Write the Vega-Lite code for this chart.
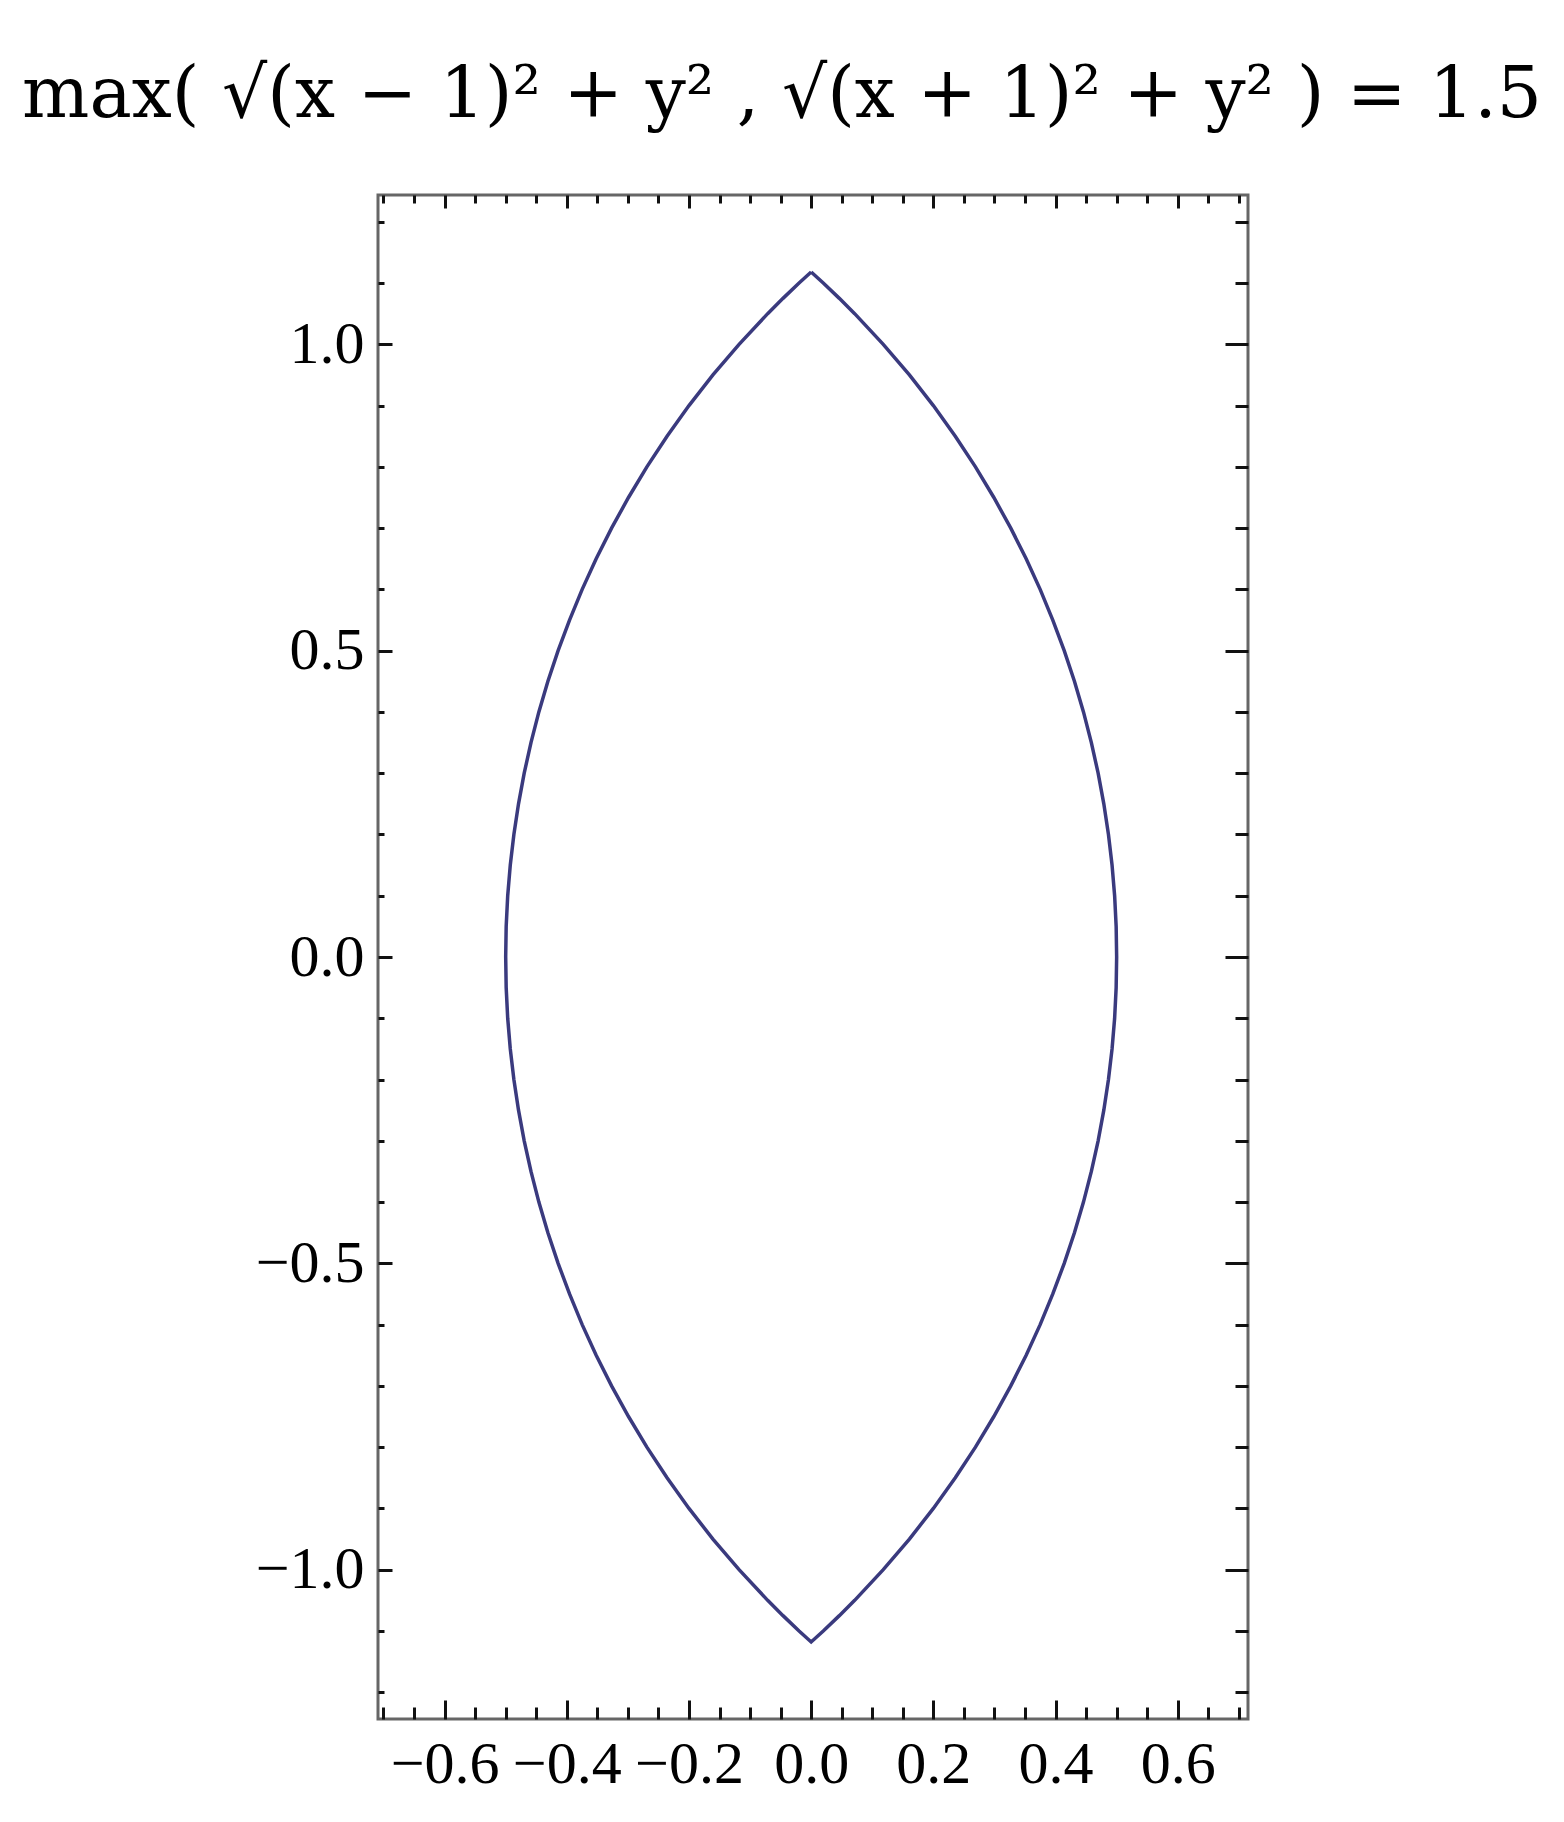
{
  "$schema": "https://vega.github.io/schema/vega-lite/v6.json",
  "width": 870,
  "height": 1524,
  "autosize": {"type": "none"},
  "padding": {"left": 378, "top": 195, "right": 316, "bottom": 103},
  "background": "white",
  "title": {
    "text": "max(  √(x − 1)² + y² , √(x + 1)² + y²  ) = 1.5",
    "font": "DejaVu Serif",
    "fontSize": 71,
    "fontWeight": "normal",
    "color": "#000000",
    "anchor": "middle",
    "frame": "group",
    "baseline": "alphabetic",
    "dx": -31,
    "dy": 70,
    "offset": 74
  },
  "config": {
    "view": {"stroke": "#666666", "strokeWidth": 3},
    "axis": {
      "domain": false,
      "grid": false,
      "tickColor": "#111111",
      "tickWidth": 3,
      "labelFont": "Liberation Serif",
      "labelFontSize": 60,
      "labelColor": "#000000",
      "labelFlush": false,
      "labelOverlap": false,
      "labelBound": false,
      "title": null
    }
  },
  "data": {
    "values": [
      {"i": 0, "x": 0, "y": 1.118},
      {"i": 1, "x": 0.0198, "y": 1.1},
      {"i": 2, "x": 0.0461, "y": 1.075},
      {"i": 3, "x": 0.0712, "y": 1.05},
      {"i": 4, "x": 0.118, "y": 1.0},
      {"i": 5, "x": 0.1608, "y": 0.95},
      {"i": 6, "x": 0.2, "y": 0.9},
      {"i": 7, "x": 0.2359, "y": 0.85},
      {"i": 8, "x": 0.2689, "y": 0.8},
      {"i": 9, "x": 0.299, "y": 0.75},
      {"i": 10, "x": 0.3267, "y": 0.7},
      {"i": 11, "x": 0.3519, "y": 0.65},
      {"i": 12, "x": 0.3748, "y": 0.6},
      {"i": 13, "x": 0.3955, "y": 0.55},
      {"i": 14, "x": 0.4142, "y": 0.5},
      {"i": 15, "x": 0.4309, "y": 0.45},
      {"i": 16, "x": 0.4457, "y": 0.4},
      {"i": 17, "x": 0.4586, "y": 0.35},
      {"i": 18, "x": 0.4697, "y": 0.3},
      {"i": 19, "x": 0.479, "y": 0.25},
      {"i": 20, "x": 0.4866, "y": 0.2},
      {"i": 21, "x": 0.4925, "y": 0.15},
      {"i": 22, "x": 0.4967, "y": 0.1},
      {"i": 23, "x": 0.4992, "y": 0.05},
      {"i": 24, "x": 0.5, "y": 0},
      {"i": 25, "x": 0.4992, "y": -0.05},
      {"i": 26, "x": 0.4967, "y": -0.1},
      {"i": 27, "x": 0.4925, "y": -0.15},
      {"i": 28, "x": 0.4866, "y": -0.2},
      {"i": 29, "x": 0.479, "y": -0.25},
      {"i": 30, "x": 0.4697, "y": -0.3},
      {"i": 31, "x": 0.4586, "y": -0.35},
      {"i": 32, "x": 0.4457, "y": -0.4},
      {"i": 33, "x": 0.4309, "y": -0.45},
      {"i": 34, "x": 0.4142, "y": -0.5},
      {"i": 35, "x": 0.3955, "y": -0.55},
      {"i": 36, "x": 0.3748, "y": -0.6},
      {"i": 37, "x": 0.3519, "y": -0.65},
      {"i": 38, "x": 0.3267, "y": -0.7},
      {"i": 39, "x": 0.299, "y": -0.75},
      {"i": 40, "x": 0.2689, "y": -0.8},
      {"i": 41, "x": 0.2359, "y": -0.85},
      {"i": 42, "x": 0.2, "y": -0.9},
      {"i": 43, "x": 0.1608, "y": -0.95},
      {"i": 44, "x": 0.118, "y": -1.0},
      {"i": 45, "x": 0.0712, "y": -1.05},
      {"i": 46, "x": 0.0461, "y": -1.075},
      {"i": 47, "x": 0.0198, "y": -1.1},
      {"i": 48, "x": 0, "y": -1.118},
      {"i": 49, "x": -0.0198, "y": -1.1},
      {"i": 50, "x": -0.0461, "y": -1.075},
      {"i": 51, "x": -0.0712, "y": -1.05},
      {"i": 52, "x": -0.118, "y": -1.0},
      {"i": 53, "x": -0.1608, "y": -0.95},
      {"i": 54, "x": -0.2, "y": -0.9},
      {"i": 55, "x": -0.2359, "y": -0.85},
      {"i": 56, "x": -0.2689, "y": -0.8},
      {"i": 57, "x": -0.299, "y": -0.75},
      {"i": 58, "x": -0.3267, "y": -0.7},
      {"i": 59, "x": -0.3519, "y": -0.65},
      {"i": 60, "x": -0.3748, "y": -0.6},
      {"i": 61, "x": -0.3955, "y": -0.55},
      {"i": 62, "x": -0.4142, "y": -0.5},
      {"i": 63, "x": -0.4309, "y": -0.45},
      {"i": 64, "x": -0.4457, "y": -0.4},
      {"i": 65, "x": -0.4586, "y": -0.35},
      {"i": 66, "x": -0.4697, "y": -0.3},
      {"i": 67, "x": -0.479, "y": -0.25},
      {"i": 68, "x": -0.4866, "y": -0.2},
      {"i": 69, "x": -0.4925, "y": -0.15},
      {"i": 70, "x": -0.4967, "y": -0.1},
      {"i": 71, "x": -0.4992, "y": -0.05},
      {"i": 72, "x": -0.5, "y": 0},
      {"i": 73, "x": -0.4992, "y": 0.05},
      {"i": 74, "x": -0.4967, "y": 0.1},
      {"i": 75, "x": -0.4925, "y": 0.15},
      {"i": 76, "x": -0.4866, "y": 0.2},
      {"i": 77, "x": -0.479, "y": 0.25},
      {"i": 78, "x": -0.4697, "y": 0.3},
      {"i": 79, "x": -0.4586, "y": 0.35},
      {"i": 80, "x": -0.4457, "y": 0.4},
      {"i": 81, "x": -0.4309, "y": 0.45},
      {"i": 82, "x": -0.4142, "y": 0.5},
      {"i": 83, "x": -0.3955, "y": 0.55},
      {"i": 84, "x": -0.3748, "y": 0.6},
      {"i": 85, "x": -0.3519, "y": 0.65},
      {"i": 86, "x": -0.3267, "y": 0.7},
      {"i": 87, "x": -0.299, "y": 0.75},
      {"i": 88, "x": -0.2689, "y": 0.8},
      {"i": 89, "x": -0.2359, "y": 0.85},
      {"i": 90, "x": -0.2, "y": 0.9},
      {"i": 91, "x": -0.1608, "y": 0.95},
      {"i": 92, "x": -0.118, "y": 1.0},
      {"i": 93, "x": -0.0712, "y": 1.05},
      {"i": 94, "x": -0.0461, "y": 1.075},
      {"i": 95, "x": -0.0198, "y": 1.1},
      {"i": 96, "x": 0, "y": 1.118}
    ]
  },
  "layer": [
    {
      "mark": {"type": "line", "stroke": "#3a3a7e", "strokeWidth": 3.5, "strokeJoin": "miter", "clip": true},
      "encoding": {
        "x": {
          "field": "x", "type": "quantitative",
          "scale": {"domain": [-0.709, 0.715], "nice": false, "zero": false},
          "axis": {
            "orient": "bottom",
            "values": [-0.7,-0.65,-0.6,-0.55,-0.5,-0.45,-0.4,-0.35,-0.3,-0.25,-0.2,-0.15,-0.1,-0.05,0,0.05,0.1,0.15,0.2,0.25,0.3,0.35,0.4,0.45,0.5,0.55,0.6,0.65,0.7],
            "format": ".1f",
            "labelExpr": "abs(datum.value*5-round(datum.value*5))<0.001 ? datum.label : ''",
            "tickSize": {"condition": {"test": "abs(datum.value*5-round(datum.value*5))<0.001", "value": -19}, "value": -12},
            "labelPadding": 35
          }
        },
        "y": {
          "field": "y", "type": "quantitative",
          "scale": {"domain": [-1.2437, 1.2437], "nice": false, "zero": false},
          "axis": {
            "orient": "left",
            "values": [-1.2,-1.1,-1,-0.9,-0.8,-0.7,-0.6,-0.5,-0.4,-0.3,-0.2,-0.1,0,0.1,0.2,0.3,0.4,0.5,0.6,0.7,0.8,0.9,1,1.1,1.2],
            "format": ".1f",
            "labelExpr": "abs(datum.value*2-round(datum.value*2))<0.001 ? datum.label : ''",
            "tickSize": {"condition": {"test": "abs(datum.value*2-round(datum.value*2))<0.001", "value": -14}, "value": -6},
            "labelPadding": 28
          }
        },
        "order": {"field": "i", "type": "quantitative"}
      }
    },
    {
      "mark": {"type": "line", "opacity": 0},
      "encoding": {
        "x": {
          "field": "x", "type": "quantitative",
          "scale": {"domain": [-0.709, 0.715], "nice": false, "zero": false},
          "axis": {
            "orient": "top",
            "labels": false,
            "values": [-0.7,-0.65,-0.6,-0.55,-0.5,-0.45,-0.4,-0.35,-0.3,-0.25,-0.2,-0.15,-0.1,-0.05,0,0.05,0.1,0.15,0.2,0.25,0.3,0.35,0.4,0.45,0.5,0.55,0.6,0.65,0.7],
            "tickSize": {"condition": {"test": "abs(datum.value*5-round(datum.value*5))<0.001", "value": -13}, "value": -8}
          }
        },
        "y": {
          "field": "y", "type": "quantitative",
          "scale": {"domain": [-1.2437, 1.2437], "nice": false, "zero": false},
          "axis": {
            "orient": "right",
            "labels": false,
            "values": [-1.2,-1.1,-1,-0.9,-0.8,-0.7,-0.6,-0.5,-0.4,-0.3,-0.2,-0.1,0,0.1,0.2,0.3,0.4,0.5,0.6,0.7,0.8,0.9,1,1.1,1.2],
            "tickSize": {"condition": {"test": "abs(datum.value*2-round(datum.value*2))<0.001", "value": -23}, "value": -13}
          }
        },
        "order": {"field": "i", "type": "quantitative"}
      }
    }
  ],
  "resolve": {"axis": {"x": "independent", "y": "independent"}}
}
